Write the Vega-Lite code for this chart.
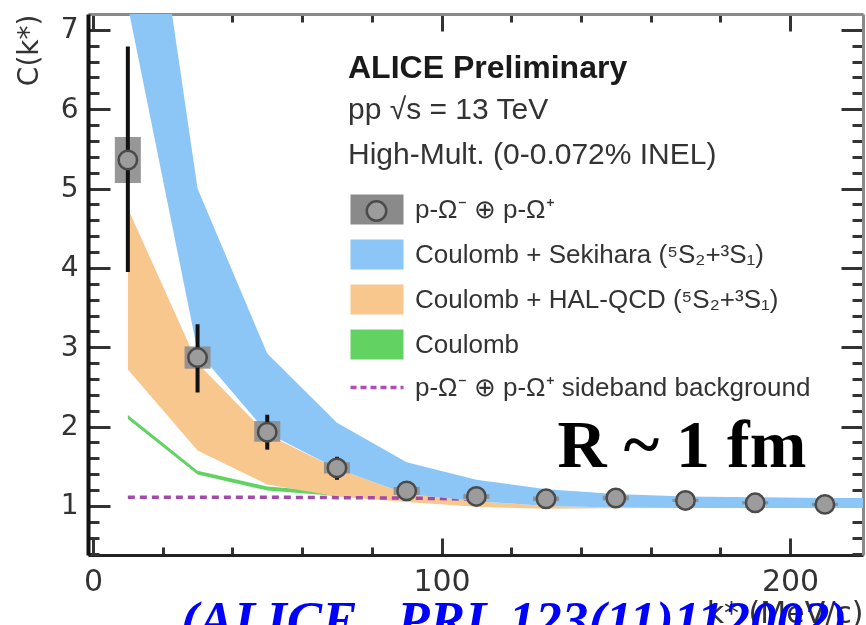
{
  "$schema": "https://vega.github.io/schema/vega-lite/v6.json",
  "autosize": {"type": "none"},
  "width": 775,
  "height": 541,
  "padding": {"left": 88, "top": 14, "right": 3, "bottom": 70},
  "background": "white",
  "config": {"view": {"stroke": null}, "axis": {"zindex": 1}},
  "title": {
    "text": "ALICE Preliminary",
    "subtitle": ["pp √s = 13 TeV", "High-Mult. (0-0.072% INEL)"],
    "orient": "top",
    "anchor": "start",
    "frame": "group",
    "dx": 260,
    "offset": -158,
    "font": "Liberation Sans",
    "fontSize": 32,
    "fontWeight": "bold",
    "color": "#1a1a1a",
    "subtitleFont": "Liberation Sans",
    "subtitleFontSize": 30,
    "subtitleColor": "#333333",
    "subtitleLineHeight": 45,
    "subtitlePadding": 10
  },
  "datasets": {
    "bands": [
      {"model": "coulomb", "k": 10, "lo": 2.095, "hi": 2.145},
      {"model": "coulomb", "k": 30, "lo": 1.395, "hi": 1.445},
      {"model": "coulomb", "k": 50, "lo": 1.195, "hi": 1.245},
      {"model": "coulomb", "k": 70, "lo": 1.125, "hi": 1.175},
      {"model": "coulomb", "k": 90, "lo": 1.085, "hi": 1.135},
      {"model": "halqcd", "k": 10, "lo": 2.72, "hi": 4.75},
      {"model": "halqcd", "k": 30, "lo": 1.70, "hi": 2.80},
      {"model": "halqcd", "k": 50, "lo": 1.27, "hi": 1.90},
      {"model": "halqcd", "k": 70, "lo": 1.12, "hi": 1.47},
      {"model": "halqcd", "k": 90, "lo": 1.05, "hi": 1.15},
      {"model": "halqcd", "k": 110, "lo": 0.99, "hi": 1.06},
      {"model": "halqcd", "k": 130, "lo": 0.965, "hi": 1.0},
      {"model": "halqcd", "k": 150, "lo": 0.972, "hi": 0.98},
      {"model": "halqcd", "k": 170, "lo": 0.975, "hi": 0.978},
      {"model": "halqcd", "k": 230, "lo": 0.976, "hi": 0.978},
      {"model": "sekihara", "k": 10, "lo": 7.3, "hi": 11.0},
      {"model": "sekihara", "k": 30, "lo": 2.95, "hi": 5.0},
      {"model": "sekihara", "k": 50, "lo": 1.92, "hi": 2.92},
      {"model": "sekihara", "k": 70, "lo": 1.47, "hi": 2.05},
      {"model": "sekihara", "k": 90, "lo": 1.15, "hi": 1.55},
      {"model": "sekihara", "k": 110, "lo": 1.06, "hi": 1.33},
      {"model": "sekihara", "k": 130, "lo": 1.0, "hi": 1.21},
      {"model": "sekihara", "k": 150, "lo": 0.98, "hi": 1.15},
      {"model": "sekihara", "k": 170, "lo": 0.975, "hi": 1.12},
      {"model": "sekihara", "k": 190, "lo": 0.975, "hi": 1.11},
      {"model": "sekihara", "k": 210, "lo": 0.975, "hi": 1.10},
      {"model": "sekihara", "k": 230, "lo": 0.975, "hi": 1.10}
    ],
    "sideband": [
      {"k": 10, "C": 1.11},
      {"k": 30, "C": 1.11},
      {"k": 50, "C": 1.11},
      {"k": 70, "C": 1.105},
      {"k": 90, "C": 1.10},
      {"k": 110, "C": 1.085},
      {"k": 130, "C": 1.07},
      {"k": 150, "C": 1.06},
      {"k": 170, "C": 1.05},
      {"k": 190, "C": 1.045},
      {"k": 210, "C": 1.04},
      {"k": 230, "C": 1.035}
    ],
    "points": [
      {"k": 10, "C": 5.36, "statLo": 3.95, "statHi": 6.79, "sysLo": 5.07, "sysHi": 5.65},
      {"k": 30, "C": 2.87, "statLo": 2.43, "statHi": 3.29, "sysLo": 2.73, "sysHi": 3.01},
      {"k": 50, "C": 1.93, "statLo": 1.71, "statHi": 2.15, "sysLo": 1.81, "sysHi": 2.07},
      {"k": 70, "C": 1.48, "statLo": 1.33, "statHi": 1.62, "sysLo": 1.41, "sysHi": 1.55},
      {"k": 90, "C": 1.19, "statLo": 1.12, "statHi": 1.26, "sysLo": 1.14, "sysHi": 1.24},
      {"k": 110, "C": 1.12, "statLo": 1.08, "statHi": 1.16, "sysLo": 1.09, "sysHi": 1.15},
      {"k": 130, "C": 1.09, "statLo": 1.06, "statHi": 1.12, "sysLo": 1.06, "sysHi": 1.12},
      {"k": 150, "C": 1.10, "statLo": 1.07, "statHi": 1.13, "sysLo": 1.07, "sysHi": 1.13},
      {"k": 170, "C": 1.07, "statLo": 1.04, "statHi": 1.10, "sysLo": 1.05, "sysHi": 1.09},
      {"k": 190, "C": 1.04, "statLo": 1.01, "statHi": 1.07, "sysLo": 1.02, "sysHi": 1.06},
      {"k": 210, "C": 1.02, "statLo": 0.99, "statHi": 1.05, "sysLo": 1.0, "sysHi": 1.04}
    ]
  },
  "resolve": {"axis": {"x": "independent", "y": "independent"}},
  "layer": [
    {
      "data": {"name": "bands"},
      "transform": [{"filter": "datum.model === 'coulomb'"}],
      "mark": {"type": "area", "clip": true, "opacity": 1},
      "encoding": {
        "x": {"field": "k", "type": "quantitative", "scale": {"domain": [0, 219.5], "nice": false, "zero": false}, "axis": null},
        "y": {"field": "lo", "type": "quantitative", "scale": {"domain": [0.382, 7.2], "nice": false, "zero": false}, "axis": null},
        "y2": {"field": "hi"},
        "fill": {
          "field": "model",
          "type": "nominal",
          "scale": {"domain": ["data", "sekihara", "halqcd", "coulomb", "sideband"], "range": ["#8a8a8a", "#8cc6f6", "#f7c78e", "#62d262", "#b04cb4"]},
          "legend": {
            "orient": "none",
            "legendX": 276,
            "legendY": 182.5,
            "zindex": 1,
            "title": null,
            "symbolType": "M-1,-0.566H1V0.566H-1Z",
            "symbolSize": 2809,
            "symbolStrokeWidth": 0,
            "symbolOpacity": 1,
            "rowPadding": 15,
            "labelOffset": 25,
            "labelFont": "Liberation Sans",
            "labelFontSize": 26,
            "labelColor": "#333333",
            "labelLimit": 600,
            "labelExpr": "datum.value === 'data' ? 'p-Ω⁻ ⊕ p-Ω⁺' : datum.value === 'sekihara' ? 'Coulomb + Sekihara (⁵S₂+³S₁)' : datum.value === 'halqcd' ? 'Coulomb + HAL-QCD (⁵S₂+³S₁)' : datum.value === 'coulomb' ? 'Coulomb' : 'p-Ω⁻ ⊕ p-Ω⁺ sideband background'",
            "encoding": {
              "symbols": {
                "shape": {"value": {"expr": "datum.value === 'sideband' ? 'M-1,0H1' : 'M-1,-0.566H1V0.566H-1Z'"}},
                "stroke": {"value": {"expr": "datum.value === 'sideband' ? '#b04cb4' : 'transparent'"}},
                "strokeWidth": {"value": {"expr": "datum.value === 'sideband' ? 3.5 : 0"}},
                "strokeDash": {"value": {"expr": "datum.value === 'sideband' ? [6, 4] : [1, 0]"}}
              }
            }
          }
        }
      }
    },
    {
      "data": {"name": "bands"},
      "transform": [{"filter": "datum.model === 'halqcd'"}],
      "mark": {"type": "area", "clip": true, "opacity": 1},
      "encoding": {
        "x": {"field": "k", "type": "quantitative", "scale": {"domain": [0, 219.5], "nice": false, "zero": false}, "axis": null},
        "y": {"field": "lo", "type": "quantitative", "scale": {"domain": [0.382, 7.2], "nice": false, "zero": false}, "axis": null},
        "y2": {"field": "hi"},
        "fill": {"field": "model", "type": "nominal", "scale": {"domain": ["data", "sekihara", "halqcd", "coulomb", "sideband"], "range": ["#8a8a8a", "#8cc6f6", "#f7c78e", "#62d262", "#b04cb4"]}, "legend": null}
      }
    },
    {
      "data": {"name": "sideband"},
      "mark": {"type": "line", "clip": true, "color": "#a34aa8", "strokeWidth": 3.5, "strokeDash": [7, 5]},
      "encoding": {
        "x": {
          "field": "k", "type": "quantitative",
          "scale": {"domain": [0, 219.5], "nice": false, "zero": false},
          "axis": {
            "orient": "top",
            "values": [0, 20, 40, 60, 80, 100, 120, 140, 160, 180, 200],
            "grid": false,
            "labels": false,
            "title": null,
            "domainColor": "#8a8a8a",
            "domainWidth": 3,
            "tickColor": "#333333",
            "tickWidth": 3,
            "tickSize": {"condition": {"test": "datum.value % 100 === 0", "value": -17}, "value": -8}
          }
        },
        "y": {
          "field": "C", "type": "quantitative",
          "scale": {"domain": [0.382, 7.2], "nice": false, "zero": false},
          "axis": {
            "orient": "right",
            "values": [0.4, 0.6, 0.8, 1, 1.2, 1.4, 1.6, 1.8, 2, 2.2, 2.4, 2.6, 2.8, 3, 3.2, 3.4, 3.6, 3.8, 4, 4.2, 4.4, 4.6, 4.8, 5, 5.2, 5.4, 5.6, 5.8, 6, 6.2, 6.4, 6.6, 6.8, 7],
            "grid": false,
            "labels": false,
            "title": null,
            "domainColor": "#8a8a8a",
            "domainWidth": 3,
            "tickColor": "#333333",
            "tickWidth": 3,
            "tickSize": {"condition": {"test": "abs(datum.value - round(datum.value)) < 0.001", "value": -22}, "value": -11}
          }
        }
      }
    },
    {
      "data": {"name": "bands"},
      "transform": [{"filter": "datum.model === 'sekihara'"}],
      "mark": {"type": "area", "clip": true, "opacity": 1, "blend": "multiply"},
      "encoding": {
        "x": {"field": "k", "type": "quantitative", "scale": {"domain": [0, 219.5], "nice": false, "zero": false}, "axis": null},
        "y": {"field": "lo", "type": "quantitative", "scale": {"domain": [0.382, 7.2], "nice": false, "zero": false}, "axis": null},
        "y2": {"field": "hi"},
        "fill": {"field": "model", "type": "nominal", "scale": {"domain": ["data", "sekihara", "halqcd", "coulomb", "sideband"], "range": ["#8a8a8a", "#8cc6f6", "#f7c78e", "#62d262", "#b04cb4"]}, "legend": null}
      }
    },
    {
      "data": {"name": "points"},
      "mark": {"type": "bar", "width": 26, "color": "#8c8c8c", "opacity": 0.9},
      "encoding": {
        "x": {"field": "k", "type": "quantitative", "scale": {"domain": [0, 219.5], "nice": false, "zero": false}, "axis": null},
        "y": {"field": "sysLo", "type": "quantitative", "scale": {"domain": [0.382, 7.2], "nice": false, "zero": false}, "axis": null},
        "y2": {"field": "sysHi"}
      }
    },
    {
      "data": {"name": "points"},
      "mark": {"type": "rule", "color": "#111111", "strokeWidth": 4},
      "encoding": {
        "x": {"field": "k", "type": "quantitative", "scale": {"domain": [0, 219.5], "nice": false, "zero": false}, "axis": null},
        "y": {"field": "statLo", "type": "quantitative", "scale": {"domain": [0.382, 7.2], "nice": false, "zero": false}, "axis": null},
        "y2": {"field": "statHi"}
      }
    },
    {
      "data": {"name": "points"},
      "mark": {"type": "point", "filled": true, "fill": "#9c9c9c", "size": 340, "strokeWidth": 2.5, "opacity": 1},
      "encoding": {
        "x": {
          "field": "k", "type": "quantitative",
          "scale": {"domain": [0, 219.5], "nice": false, "zero": false},
          "axis": {
            "orient": "bottom",
            "values": [0, 20, 40, 60, 80, 100, 120, 140, 160, 180, 200],
            "grid": false,
            "domainColor": "#222222",
            "domainWidth": 3,
            "tickColor": "#333333",
            "tickWidth": 3,
            "tickSize": {"condition": {"test": "datum.value % 100 === 0", "value": -17}, "value": -8},
            "labelExpr": "datum.value % 100 === 0 ? format(datum.value, 'd') : ''",
            "labelFont": "DejaVu Sans",
            "labelFontSize": 30,
            "labelColor": "#333333",
            "labelPadding": 28,
            "labelFlush": false,
            "labelOverlap": false,
            "title": "k* (MeV/c)",
            "titleFont": "DejaVu Sans",
            "titleFontSize": 30,
            "titleFontWeight": "normal",
            "titleColor": "#333333",
            "titleAnchor": "end",
            "titlePadding": -7
          }
        },
        "y": {
          "field": "C", "type": "quantitative",
          "scale": {"domain": [0.382, 7.2], "nice": false, "zero": false},
          "axis": {
            "orient": "left",
            "values": [0.4, 0.6, 0.8, 1, 1.2, 1.4, 1.6, 1.8, 2, 2.2, 2.4, 2.6, 2.8, 3, 3.2, 3.4, 3.6, 3.8, 4, 4.2, 4.4, 4.6, 4.8, 5, 5.2, 5.4, 5.6, 5.8, 6, 6.2, 6.4, 6.6, 6.8, 7],
            "grid": false,
            "domainColor": "#111111",
            "domainWidth": 4,
            "tickColor": "#333333",
            "tickWidth": 3,
            "tickSize": {"condition": {"test": "abs(datum.value - round(datum.value)) < 0.001", "value": -22}, "value": -11},
            "labelExpr": "abs(datum.value - round(datum.value)) < 0.001 ? format(datum.value, 'd') : ''",
            "labelFont": "DejaVu Sans",
            "labelFontSize": 28,
            "labelColor": "#333333",
            "labelPadding": 32,
            "labelFlush": false,
            "labelOverlap": false,
            "title": "C(k*)",
            "titleFont": "DejaVu Sans",
            "titleFontSize": 28,
            "titleFontWeight": "normal",
            "titleColor": "#333333",
            "titleAnchor": "end",
            "titlePadding": 17
          }
        },
        "stroke": {
          "datum": "obs",
          "scale": {"range": ["#4a4a4a"]},
          "legend": {
            "orient": "none",
            "legendX": 277.5,
            "legendY": 186,
            "zindex": 2,
            "title": null,
            "symbolType": "circle",
            "symbolSize": 380,
            "symbolStrokeWidth": 2.5,
            "symbolFillColor": "#9c9c9c",
            "labelExpr": "''",
            "labelFontSize": 1
          }
        }
      }
    },
    {
      "data": {"values": [{"note": "R ~ 1 fm"}]},
      "mark": {"type": "text", "font": "Liberation Serif", "fontWeight": "bold", "fontSize": 68, "align": "center", "baseline": "alphabetic", "color": "#000000"},
      "encoding": {
        "x": {"datum": 169, "type": "quantitative", "scale": {"domain": [0, 219.5], "nice": false, "zero": false}, "axis": null},
        "y": {"datum": 1.49, "type": "quantitative", "scale": {"domain": [0.382, 7.2], "nice": false, "zero": false}, "axis": null},
        "text": {"field": "note"}
      }
    },
    {
      "data": {"values": [{"ref": "(ALICE , PRL 123(11)112002)"}]},
      "mark": {"type": "text", "font": "Liberation Serif", "fontWeight": "bold", "fontStyle": "italic", "fontSize": 53, "align": "left", "baseline": "alphabetic", "color": "#0000ff"},
      "encoding": {
        "x": {"datum": 25.2, "type": "quantitative", "scale": {"domain": [0, 219.5], "nice": false, "zero": false}, "axis": null},
        "y": {"datum": -0.66, "type": "quantitative", "scale": {"domain": [0.382, 7.2], "nice": false, "zero": false}, "axis": null},
        "text": {"field": "ref"}
      }
    }
  ]
}
